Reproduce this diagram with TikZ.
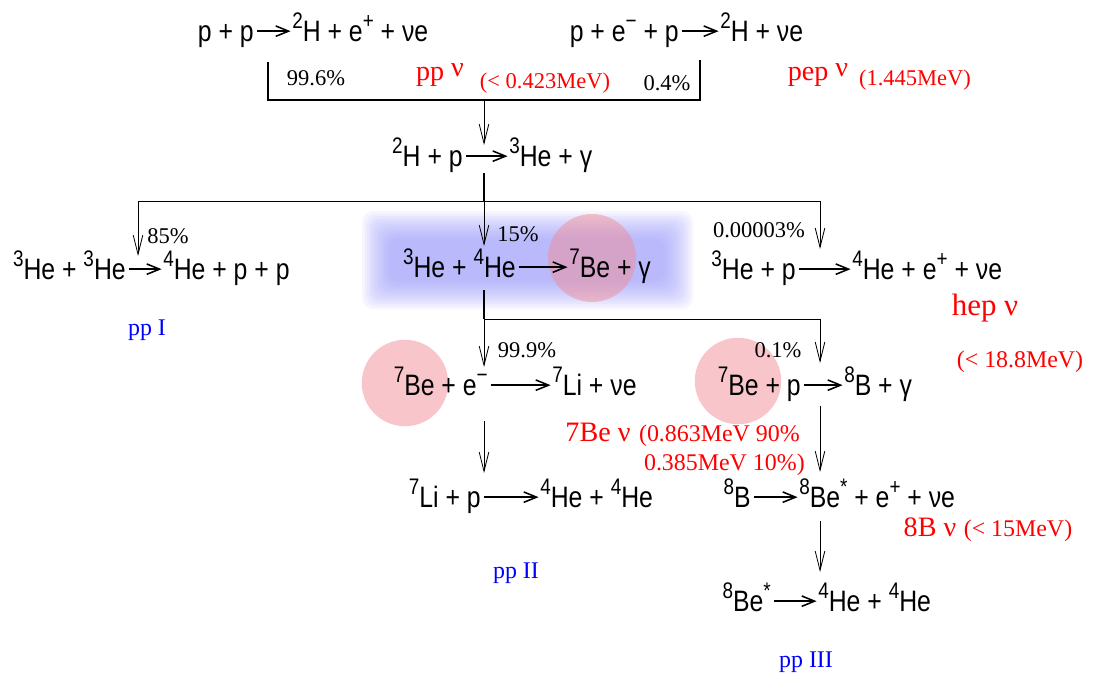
\documentclass[tikz,border=0pt]{standalone}
\usepackage{fontspec}
\setmainfont{Liberation Serif}
\newfontfamily\eqfont[FakeStretch=0.84]{Liberation Sans}
\usetikzlibrary{arrows.meta}
\newcommand{\iso}[1]{\raisebox{0.42em}{\fontsize{16}{16}\selectfont #1}}
\definecolor{glowblue}{RGB}{150,150,250}
\definecolor{spotpink}{RGB}{240,140,150}

\begin{document}
\begin{tikzpicture}[x=0.025cm, y=-0.025cm,
  eq/.style={font=\eqfont\fontsize{21}{23}\selectfont, inner sep=0pt},
  react/.style={-{Straight Barb[length=3.2mm, width=2.6mm]}, line width=1.1pt},
  flow/.style={-{Straight Barb[length=4.8mm, width=2.4mm]}, line width=0.6pt},
  link/.style={line width=0.9pt},
  frac/.style={font=\fontsize{16}{18}\selectfont, inner sep=0pt},
  nulab/.style={red, font=\fontsize{20}{22}\selectfont, inner sep=0pt},
  nuval/.style={red, font=\fontsize{16}{18}\selectfont, inner sep=0pt},
  chain/.style={blue, font=\fontsize{17}{19}\selectfont, inner sep=0pt},
  glowfill/.style={fill=glowblue, fill opacity=0.085, rounded corners=8pt},
  spot/.style={fill=spotpink, fill opacity=0.5}]
\useasboundingbox (0,0) rectangle (1094,678);

% highlight of the 3He + 4He branch
\foreach \i in {0,...,11}
  \fill[glowfill] (362+2.5*\i,211+2.5*\i) rectangle (693-2.5*\i,309-2.5*\i);
\fill[spot] (592,258) circle[radius=1.1cm];
\fill[spot] (405,383) circle[radius=1.08cm];
\fill[spot] (738,381) circle[radius=1.08cm];

% reactions
\node[eq, anchor=base east] (pp-l) at (254,41) {p + p};
\node[eq, anchor=base west] (pp-r) at (292,41) {\iso{2}H + e\iso{+} + νe};
\node[eq, anchor=base east] (pep-l) at (679,41) {p + e\iso{−} + p};
\node[eq, anchor=base west] (pep-r) at (720,41) {\iso{2}H + νe};
\node[eq, anchor=base east] (d-l) at (463,166) {\iso{2}H + p};
\node[eq, anchor=base west] (d-r) at (509,166) {\iso{3}He + γ};
\node[eq, anchor=base east] (hh-l) at (126,279) {\iso{3}He + \iso{3}He};
\node[eq, anchor=base west] (hh-r) at (163,279) {\iso{4}He + p + p};
\node[eq, anchor=base east] (hb-l) at (516,277) {\iso{3}He + \iso{4}He};
\node[eq, anchor=base west] (hb-r) at (569,277) {\iso{7}Be + γ};
\node[eq, anchor=base east] (hep-l) at (796,279) {\iso{3}He + p};
\node[eq, anchor=base west] (hep-r) at (852,279) {\iso{4}He + e\iso{+} + νe};
\node[eq, anchor=base east] (bee-l) at (488,395) {\iso{7}Be + e\iso{−}};
\node[eq, anchor=base west] (bee-r) at (552,395) {\iso{7}Li + νe};
\node[eq, anchor=base east] (bp-l) at (801,395) {\iso{7}Be + p};
\node[eq, anchor=base west] (bp-r) at (844,395) {\iso{8}B + γ};
\node[eq, anchor=base east] (li-l) at (481,507) {\iso{7}Li + p};
\node[eq, anchor=base west] (li-r) at (540,507) {\iso{4}He + \iso{4}He};
\node[eq, anchor=base east] (b-l) at (751,507) {\iso{8}B};
\node[eq, anchor=base west] (b-r) at (799,507) {\iso{8}Be\iso{*} + e\iso{+} + νe};
\node[eq, anchor=base east] (bs-l) at (771,611) {\iso{8}Be\iso{*}};
\node[eq, anchor=base west] (bs-r) at (818,611) {\iso{4}He + \iso{4}He};
\foreach \r in {pp,pep,d,hh,hb,hep,bee,bp,li,b,bs}
  \draw[react] ([shift={(2pt,7pt)}]\r-l.base east) -- ([shift={(-1pt,7pt)}]\r-r.base west);

% branching lines
\coordinate (pp-out) at (268,62);
\coordinate (pep-out) at (700,60);
\coordinate (merge) at (484,100);
\coordinate (d-in) at (484,145);
\coordinate (d-out) at (484,173);
\coordinate (split1) at (484,201);
\coordinate (hh-in) at (138,256);
\coordinate (hb-in) at (484,246);
\coordinate (hep-in) at (820,249);
\coordinate (hb-out) at (484,290);
\coordinate (split2) at (484,319);
\coordinate (bee-in) at (484,367);
\coordinate (bp-in) at (820,363);
\coordinate (bee-out) at (484,421);
\coordinate (li-in) at (484,473);
\coordinate (bp-out) at (820,406);
\coordinate (b-in) at (820,472);
\coordinate (b-out) at (820,521);
\coordinate (bs-in) at (820,572);
\draw[link] (pp-out) |- (merge) -| (pep-out);
\draw[flow] (merge) -- (d-in);
\draw[link] (d-out) -- (split1);
\draw[flow] (split1) -| (hh-in);
\draw[flow] (split1) -| (hep-in);
\draw[flow] (split1) -- (hb-in);
\draw[link] (hb-out) -- (split2);
\draw[flow] (split2) -- (bee-in);
\draw[flow] (split2) -| (bp-in);
\draw[flow] (bee-out) -- (li-in);
\draw[flow] (bp-out) -- (b-in);
\draw[flow] (b-out) -- (bs-in);

% branching ratios
\node[frac] (r-pp) at (316,78) {99.6\%};
\node[frac] (r-pep) at (667,83) {0.4\%};
\node[frac] (r-hh) at (168,236) {85\%};
\node[frac] (r-hb) at (518,234) {15\%};
\node[frac] (r-hep) at (759,230) {0.00003\%};
\node[frac] (r-bee) at (527,350) {99.9\%};
\node[frac] (r-bp) at (778,350) {0.1\%};

% neutrino labels
\node[nulab] (nu-pp) at (440,75) {pp \raisebox{3pt}{ν}};
\node[nuval] (e-pp) at (545,83) {(< 0.423MeV)};
\node[nulab] (nu-pep) at (818,75) {pep \raisebox{3pt}{ν}};
\node[nuval] (e-pep) at (915,80) {(1.445MeV)};
\node[nulab, font=\fontsize{22}{24}\selectfont] (nu-hep) at (985,308) {hep ν};
\node[nuval, font=\fontsize{17}{19}\selectfont] (e-hep) at (1020,362) {(< 18.8MeV)};
\node[nulab, anchor=base] (nu-be) at (598,441) {7Be ν};
\node[nuval, font=\fontsize{17}{19}\selectfont, anchor=base east] (e-be) at (800,441) {(0.863MeV 90\%};
\node[nuval, font=\fontsize{17}{19}\selectfont, anchor=base east] (e-be2) at (805,470) {0.385MeV 10\%)};
\node[nulab, anchor=base] (nu-b) at (930,536) {8B ν};
\node[nuval, font=\fontsize{17}{19}\selectfont, anchor=base] (e-b) at (1018,536) {(< 15MeV)};

% chain names
\node[chain] (pp1) at (147,330) {pp I};
\node[chain] (pp2) at (516,573) {pp II};
\node[chain] (pp3) at (806,662) {pp III};
\end{tikzpicture}
\end{document}
